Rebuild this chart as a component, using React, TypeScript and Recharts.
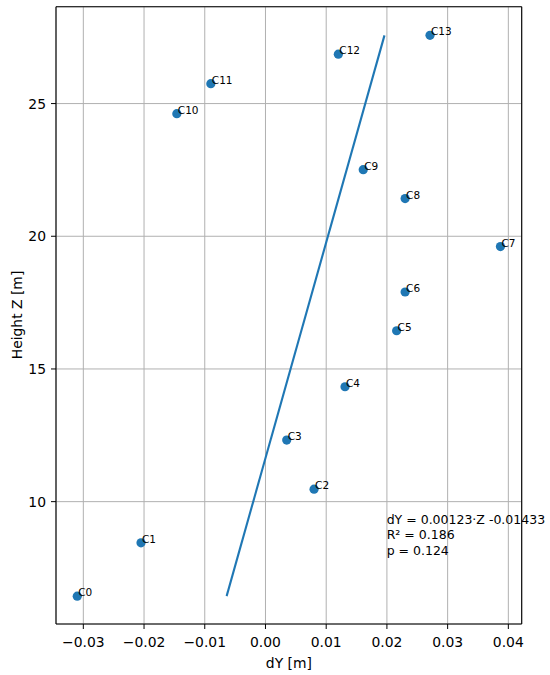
import React from 'react';
import { ScatterChart, Scatter, XAxis, YAxis, CartesianGrid } from 'recharts';

// point labels and values
const labels = ['C0', 'C1', 'C2', 'C3', 'C4', 'C5', 'C6', 'C7', 'C8', 'C9', 'C10', 'C11', 'C12', 'C13'];
const dYValues = [-0.031, -0.0205, 0.008, 0.0035, 0.0131, 0.0216, 0.023, 0.0387, 0.023, 0.0161, -0.0146, -0.009, 0.012, 0.0271];
const zValues = [6.44, 8.45, 10.47, 12.32, 14.33, 16.44, 17.9, 19.61, 21.42, 22.51, 24.62, 25.75, 26.86, 27.57];

// fitted line ends (dY = 0.00123·Z - 0.01433 over the Z range)
const fitDY = [-0.0064, 0.0196];
const fitZ = [6.44, 27.57];

const xTicks = [-0.03, -0.02, -0.01, 0.0, 0.01, 0.02, 0.03, 0.04];
const yTicks = [10, 15, 20, 25];
const statLines = ['dY = 0.00123·Z -0.01433', 'R² = 0.186', 'p = 0.124'];

const points = labels.map((name, i) => ({ name, dY: dYValues[i], z: zValues[i] }));
const fit = fitDY.map((dY, i) => ({ dY, z: fitZ[i] }));

const BLUE = '#1f77b4';
const FONT = '"DejaVu Sans", sans-serif';

const fmtX = (v: number) => {
  const s = Math.abs(v).toFixed(2);
  return v < -1e-9 ? `\u2212${s}` : s;
};

const PointShape = (props: any) => {
  const { cx, cy, payload } = props;
  if (cx == null || cy == null) return null;
  return (
    <g>
      <circle cx={cx} cy={cy} r={4.6} fill={BLUE} />
      <text x={cx + 1} y={cy} fontSize={10.5} fill="#000" fontFamily={FONT}>
        {payload.name}
      </text>
    </g>
  );
};

const tickStyle = { fill: '#000', fontSize: 13.9, fontFamily: FONT };
const spine = { stroke: '#000', strokeWidth: 1.1 };

export default function App() {
  return (
    <div style={{ position: 'absolute', left: 0, top: 0, width: 550, height: 675, background: '#fff' }}>
      <ScatterChart width={550} height={675} margin={{ top: 5.7, right: 27.3, bottom: 11, left: 6 }}>
        <CartesianGrid stroke="#b0b0b0" strokeWidth={1} />
        <XAxis
          type="number"
          dataKey="dY"
          domain={[-0.0345, 0.0422]}
          allowDataOverflow
          ticks={xTicks}
          tickFormatter={fmtX}
          tick={tickStyle}
          tickSize={5}
          tickMargin={8}
          height={40}
          stroke="#000"
          axisLine={spine}
          tickLine={{ stroke: '#000' }}
        />
        <XAxis xAxisId="top" orientation="top" type="number" height={1} tick={false} tickLine={false} axisLine={spine} />
        <YAxis
          type="number"
          dataKey="z"
          domain={[5.39, 28.65]}
          allowDataOverflow
          ticks={yTicks}
          tick={tickStyle}
          tickSize={5}
          tickMargin={5}
          width={50}
          stroke="#000"
          axisLine={spine}
          tickLine={{ stroke: '#000' }}
        />
        <YAxis yAxisId="right" orientation="right" type="number" width={1} tick={false} tickLine={false} axisLine={spine} />
        <Scatter
          data={fit}
          line={{ stroke: BLUE, strokeWidth: 2.1 }}
          shape={() => <g />}
          isAnimationActive={false}
          legendType="none"
        />
        <Scatter data={points} shape={PointShape} isAnimationActive={false} />
        <text x={288.9} y={668} textAnchor="middle" fontSize={13.9} fontFamily={FONT} fill="#000">
          dY [m]
        </text>
        <text
          x={17}
          y={315}
          textAnchor="middle"
          dominantBaseline="central"
          transform="rotate(-90 17 315)"
          fontSize={13.9}
          fontFamily={FONT}
          fill="#000"
        >
          Height Z [m]
        </text>
        {statLines.map((s, i) => (
          <text key={s} x={386.7} y={523.5 + i * 15.5} fontSize={12.5} fontFamily={FONT} fill="#000">
            {s}
          </text>
        ))}
      </ScatterChart>
    </div>
  );
}
